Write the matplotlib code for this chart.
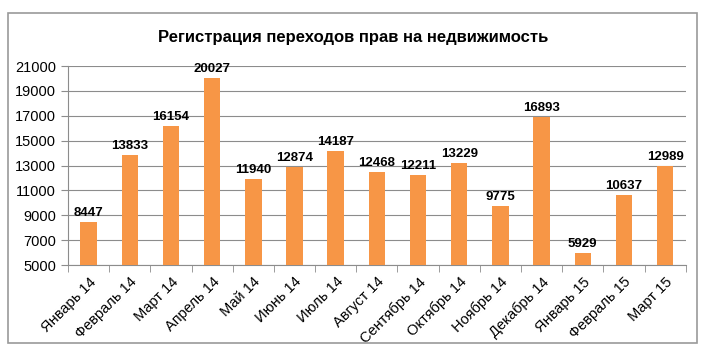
import matplotlib.pyplot as plt
from matplotlib.patches import Rectangle

months = ['Январь 14', 'Февраль 14', 'Март 14', 'Апрель 14', 'Май 14', 'Июнь 14',
          'Июль 14', 'Август 14', 'Сентябрь 14', 'Октябрь 14', 'Ноябрь 14',
          'Декабрь 14', 'Январь 15', 'Февраль 15', 'Март 15']
values = [8447, 13833, 16154, 20027, 11940, 12874, 14187, 12468, 12211, 13229,
          9775, 16893, 5929, 10637, 12989]
yticks = [5000, 7000, 9000, 11000, 13000, 15000, 17000, 19000, 21000]

plt.rcParams['font.family'] = ['Liberation Sans', 'DejaVu Sans']

fig = plt.figure(figsize=(7.06, 3.56), dpi=100)
ax = fig.add_axes([0.0963, 0.2556, 0.875, 0.559])

x = list(range(len(months)))
ax.bar(x, values, width=0.4, color='#F79646', zorder=3)
for xi, v in zip(x, values):
    ax.text(xi, v + 250, str(v), ha='center', va='bottom', fontsize=9.5,
            fontweight='bold')

ax.set_xlim(-0.5, len(months) - 0.5)
ax.set_ylim(5000, 21000)
ax.set_yticks(yticks)
ax.set_yticklabels([str(t) for t in yticks], fontsize=10.5)
ax.grid(axis='y', color='#8c8c8c', linewidth=0.8, zorder=0)
ax.set_xticks(x)
ax.set_xticklabels(months, rotation=45, ha='right', rotation_mode='anchor', fontsize=10.5)
ax.tick_params(axis='x', length=0, pad=7)
ax.tick_params(axis='y', length=5, direction='out', color='#8c8c8c')
# category boundary ticks
ax.set_xticks([i - 0.5 for i in range(len(months) + 1)], minor=True)
ax.tick_params(axis='x', which='minor', length=5, direction='out', color='#8c8c8c')

for side in ['top', 'right']:
    ax.spines[side].set_visible(False)
ax.spines['left'].set_color('#8c8c8c')
ax.spines['bottom'].set_color('#8c8c8c')

fig.text(0.5, 0.895, 'Регистрация переходов прав на недвижимость', ha='center', va='center',
         fontsize=12, fontweight='bold')

fig.patches.append(Rectangle((8 / 706, 13 / 356), 689 / 706, 330 / 356, transform=fig.transFigure,
                             fill=False, edgecolor='#9a9a9a', linewidth=1.2))

fig.savefig('out.png', dpi=100)
